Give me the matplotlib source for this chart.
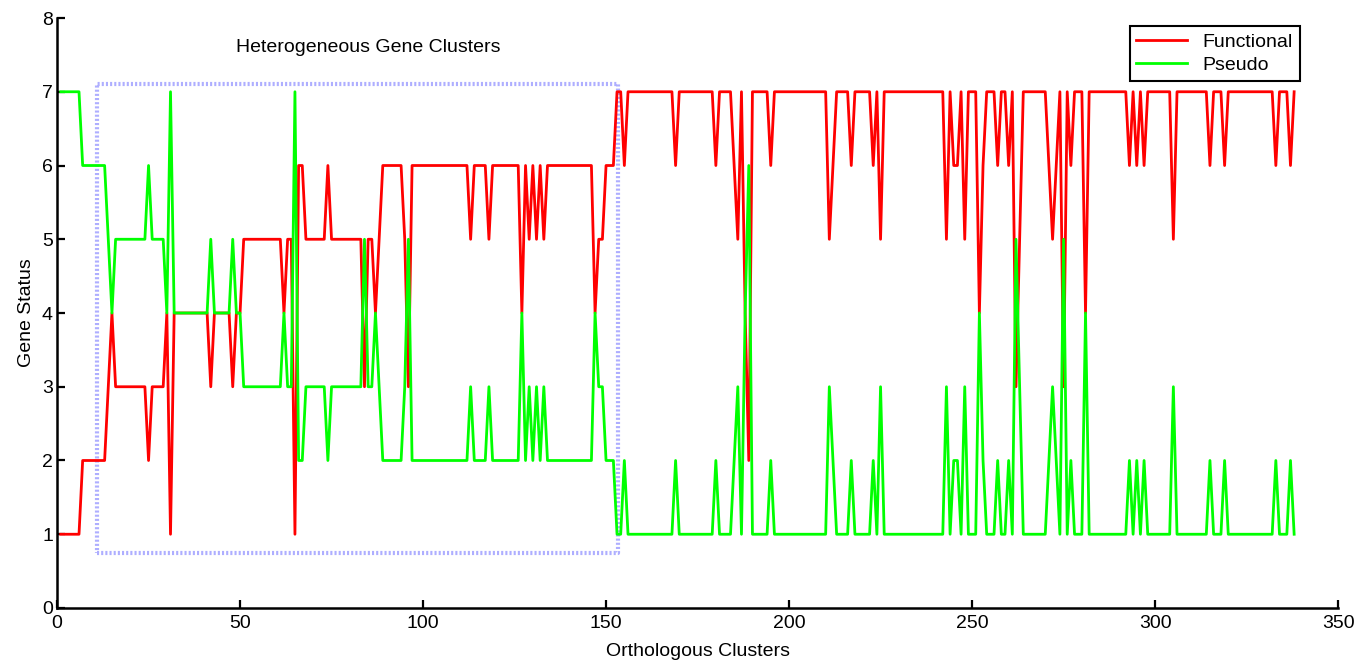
import numpy as np
import matplotlib
matplotlib.use("Agg")
import matplotlib.pyplot as plt

plt.rcParams["font.family"] = ["Liberation Sans", "DejaVu Sans"]

# ---------- Data: gene status per orthologous cluster (1..338) ----------
functional = [
    1, 1, 1, 1, 1, 1, 2, 2, 2, 2,
    2, 2, 2, 3, 4, 3, 3, 3, 3, 3,
    3, 3, 3, 3, 2, 3, 3, 3, 3, 4,
    1, 4, 4, 4, 4, 4, 4, 4, 4, 4,
    4, 3, 4, 4, 4, 4, 4, 3, 4, 4,
    5, 5, 5, 5, 5, 5, 5, 5, 5, 5,
    5, 4, 5, 5, 1, 6, 6, 5, 5, 5,
    5, 5, 5, 6, 5, 5, 5, 5, 5, 5,
    5, 5, 5, 3, 5, 5, 4, 5, 6, 6,
    6, 6, 6, 6, 5, 3, 6, 6, 6, 6,
    6, 6, 6, 6, 6, 6, 6, 6, 6, 6,
    6, 6, 5, 6, 6, 6, 6, 5, 6, 6,
    6, 6, 6, 6, 6, 6, 4, 6, 5, 6,
    5, 6, 5, 6, 6, 6, 6, 6, 6, 6,
    6, 6, 6, 6, 6, 6, 4, 5, 5, 6,
    6, 6, 7, 7, 6, 7, 7, 7, 7, 7,
    7, 7, 7, 7, 7, 7, 7, 7, 6, 7,
    7, 7, 7, 7, 7, 7, 7, 7, 7, 6,
    7, 7, 7, 7, 6, 5, 7, 4, 2, 7,
    7, 7, 7, 7, 6, 7, 7, 7, 7, 7,
    7, 7, 7, 7, 7, 7, 7, 7, 7, 7,
    5, 6, 7, 7, 7, 7, 6, 7, 7, 7,
    7, 7, 6, 7, 5, 7, 7, 7, 7, 7,
    7, 7, 7, 7, 7, 7, 7, 7, 7, 7,
    7, 7, 5, 7, 6, 6, 7, 5, 7, 7,
    7, 4, 6, 7, 7, 7, 6, 7, 7, 6,
    7, 3, 5, 7, 7, 7, 7, 7, 7, 7,
    6, 5, 6, 7, 3, 7, 6, 7, 7, 7,
    4, 7, 7, 7, 7, 7, 7, 7, 7, 7,
    7, 7, 6, 7, 6, 7, 6, 7, 7, 7,
    7, 7, 7, 7, 5, 7, 7, 7, 7, 7,
    7, 7, 7, 7, 6, 7, 7, 7, 6, 7,
    7, 7, 7, 7, 7, 7, 7, 7, 7, 7,
    7, 7, 6, 7, 7, 7, 6, 7,
]

pseudo = [
    7, 7, 7, 7, 7, 7, 6, 6, 6, 6,
    6, 6, 6, 5, 4, 5, 5, 5, 5, 5,
    5, 5, 5, 5, 6, 5, 5, 5, 5, 4,
    7, 4, 4, 4, 4, 4, 4, 4, 4, 4,
    4, 5, 4, 4, 4, 4, 4, 5, 4, 4,
    3, 3, 3, 3, 3, 3, 3, 3, 3, 3,
    3, 4, 3, 3, 7, 2, 2, 3, 3, 3,
    3, 3, 3, 2, 3, 3, 3, 3, 3, 3,
    3, 3, 3, 5, 3, 3, 4, 3, 2, 2,
    2, 2, 2, 2, 3, 5, 2, 2, 2, 2,
    2, 2, 2, 2, 2, 2, 2, 2, 2, 2,
    2, 2, 3, 2, 2, 2, 2, 3, 2, 2,
    2, 2, 2, 2, 2, 2, 4, 2, 3, 2,
    3, 2, 3, 2, 2, 2, 2, 2, 2, 2,
    2, 2, 2, 2, 2, 2, 4, 3, 3, 2,
    2, 2, 1, 1, 2, 1, 1, 1, 1, 1,
    1, 1, 1, 1, 1, 1, 1, 1, 2, 1,
    1, 1, 1, 1, 1, 1, 1, 1, 1, 2,
    1, 1, 1, 1, 2, 3, 1, 4, 6, 1,
    1, 1, 1, 1, 2, 1, 1, 1, 1, 1,
    1, 1, 1, 1, 1, 1, 1, 1, 1, 1,
    3, 2, 1, 1, 1, 1, 2, 1, 1, 1,
    1, 1, 2, 1, 3, 1, 1, 1, 1, 1,
    1, 1, 1, 1, 1, 1, 1, 1, 1, 1,
    1, 1, 3, 1, 2, 2, 1, 3, 1, 1,
    1, 4, 2, 1, 1, 1, 2, 1, 1, 2,
    1, 5, 3, 1, 1, 1, 1, 1, 1, 1,
    2, 3, 2, 1, 5, 1, 2, 1, 1, 1,
    4, 1, 1, 1, 1, 1, 1, 1, 1, 1,
    1, 1, 2, 1, 2, 1, 2, 1, 1, 1,
    1, 1, 1, 1, 3, 1, 1, 1, 1, 1,
    1, 1, 1, 1, 2, 1, 1, 1, 2, 1,
    1, 1, 1, 1, 1, 1, 1, 1, 1, 1,
    1, 1, 2, 1, 1, 1, 2, 1,
]

series_labels = ["Functional", "Pseudo"]
series_colors = ["#ff0000", "#00ff00"]

# region highlighted as heterogeneous clusters
box_x = [10.9, 153.4]
box_y = [0.75, 7.1]
box_label = "Heterogeneous Gene Clusters"

x = np.arange(1, len(functional) + 1)

# ---------- Figure ----------
fig = plt.figure(figsize=(13.55, 6.6), dpi=100)
ax = fig.add_axes([0.0421, 0.0788, 0.9454, 0.8939])

for ys, lab, col in zip([functional, pseudo], series_labels, series_colors):
    ax.plot(x, ys, color=col, lw=2.0, label=lab)

# dotted box around heterogeneous region
ax.plot([box_x[0], box_x[1], box_x[1], box_x[0], box_x[0]],
        [box_y[0], box_y[0], box_y[1], box_y[1], box_y[0]],
        color="#9a9aff", lw=3.0, ls=(0, (0.5, 0.5)), alpha=0.8, zorder=1)
ax.text(85, 7.6, box_label, ha="center", va="center", fontsize=14)

ax.set_xlim(0, 350)
ax.set_ylim(0, 8)
ax.set_xticks(np.arange(0, 351, 50))
ax.set_yticks(np.arange(0, 9, 1))
ax.set_xlabel("Orthologous Clusters", fontsize=14, labelpad=8)
ax.set_ylabel("Gene Status", fontsize=14, labelpad=5)

ax.spines["top"].set_visible(False)
ax.spines["right"].set_visible(False)
for s in ("left", "bottom"):
    ax.spines[s].set_linewidth(1.8)
ax.tick_params(direction="in", length=6, width=1.6, labelsize=14)
ax.tick_params(axis="x", pad=5)
ax.tick_params(axis="y", pad=3)

leg = ax.legend(loc="upper right", bbox_to_anchor=(0.970, 0.986),
                borderaxespad=0, fontsize=14, fancybox=False,
                framealpha=1, edgecolor="black", handlelength=2.6,
                borderpad=0.35, labelspacing=0.3, handletextpad=0.8)
leg.get_frame().set_linewidth(1.5)

fig.savefig("out.png", dpi=100)
